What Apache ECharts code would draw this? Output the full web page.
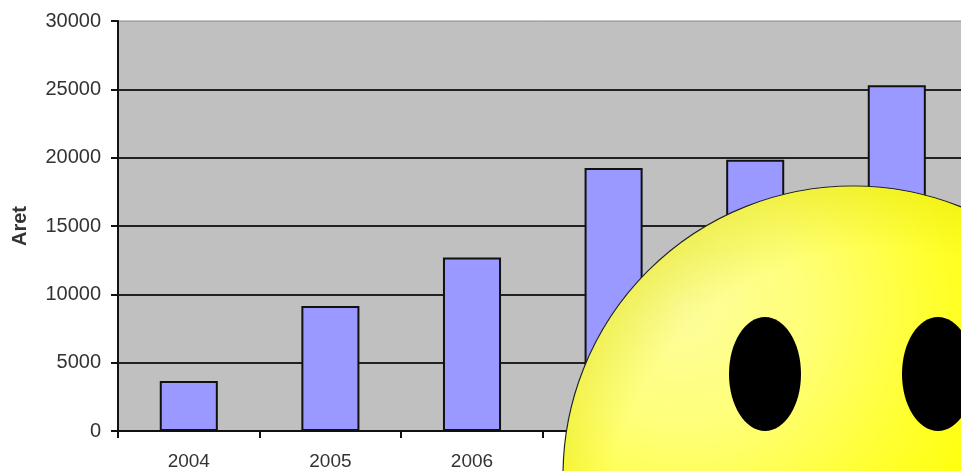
<!DOCTYPE html>
<html><head><meta charset="utf-8">
<style>html,body{margin:0;padding:0;background:#fff;width:961px;height:471px;overflow:hidden}#c{width:1000px;height:471px;filter:blur(0.5px)}</style>
<script src="https://cdn.jsdelivr.net/npm/echarts@6/dist/echarts.min.js"></script>
</head><body><div id="c"></div>
<script>
const categories = ['2004','2005','2006','2007','2008','2009'];
const values = [3650, 9150, 12700, 19250, 19850, 25300];
const yTicks = {min:0, max:30000, interval:5000};
const yName = 'Aret';
const chart = echarts.init(document.getElementById('c'), null, {renderer:'canvas'});
const font = 'Liberation Sans';
chart.setOption({
  animation:false,
  backgroundColor:'#fff',
  grid:{left:118, top:21, width:849.6, height:410, outerBoundsMode:'none', show:true, backgroundColor:'#c0c0c0', borderWidth:1, borderColor:'#888'},
  xAxis:{type:'category', data:categories, boundaryGap:true,
    axisLine:{lineStyle:{color:'#111',width:2}},
    axisTick:{show:true, alignWithLabel:false, length:7, lineStyle:{color:'#111',width:2}},
    axisLabel:{color:'#333', fontFamily:font, fontSize:19, margin:21, interval:0}},
  yAxis:{type:'value', min:yTicks.min, max:yTicks.max, interval:yTicks.interval,
    name:yName, nameLocation:'middle', nameGap:88, nameRotate:90,
    nameTextStyle:{color:'#333', fontFamily:font, fontSize:20, fontWeight:'bold'},
    axisLine:{show:true, lineStyle:{color:'#111',width:2}},
    axisTick:{show:true, length:7, lineStyle:{color:'#111',width:2}},
    axisLabel:{color:'#333', fontFamily:font, fontSize:20, margin:17, formatter:function(v){return String(v);}},
    splitLine:{show:true, showMaxLine:false, lineStyle:{color:'#222',width:2}}},
  series:[{type:'bar', data:values, barWidth:'41%',
    itemStyle:{color:'#9999ff', borderColor:'#111', borderWidth:2}}],
  graphic:[
    {type:'circle', z:100, shape:{cx:853,cy:476,r:290},
      style:{stroke:'#222',lineWidth:1.2,
        fill:new echarts.graphic.RadialGradient(680,305,420,[
          {offset:0,color:'#fdfd9f'},{offset:0.3,color:'#ffff78'},{offset:0.6,color:'#ffff30'},{offset:0.85,color:'#ffff00'},{offset:1,color:'#ffff00'}],true)}},
    {type:'circle', z:101, shape:{cx:853,cy:476,r:289.4},
      style:{fill:new echarts.graphic.RadialGradient(880,520,338,[
          {offset:0,color:'rgba(215,215,0,0)'},{offset:0.8,color:'rgba(215,215,0,0)'},{offset:1,color:'rgba(215,215,0,0.35)'}],true)}},
    {type:'ellipse', z:102, shape:{cx:765,cy:374,rx:36,ry:57}, style:{fill:'#000'}},
    {type:'ellipse', z:102, shape:{cx:938,cy:374,rx:36,ry:57}, style:{fill:'#000'}}
  ]
});
</script></body></html>
